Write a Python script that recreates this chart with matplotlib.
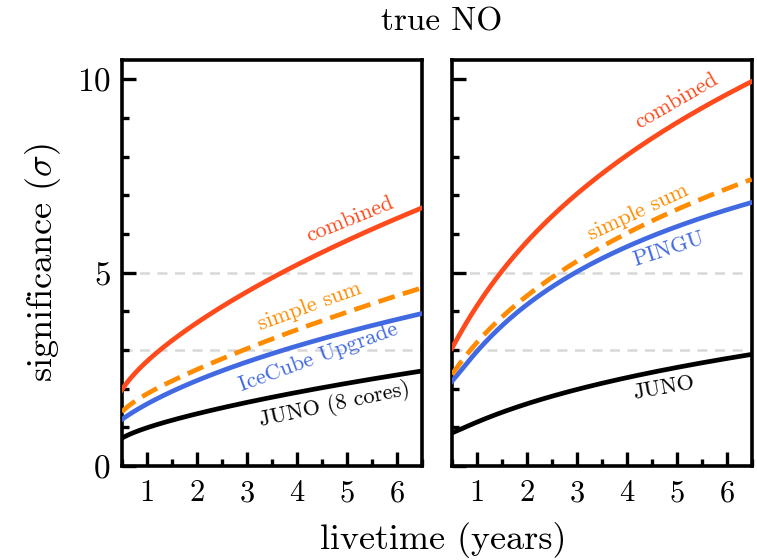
import numpy as np
import matplotlib
matplotlib.use('Agg')
import matplotlib.pyplot as plt
from matplotlib.ticker import MultipleLocator
from numpy.polynomial import polynomial as P

plt.rcParams['font.family'] = 'serif'
plt.rcParams['font.serif'] = ['cmr10', 'DejaVu Serif']
plt.rcParams['mathtext.fontset'] = 'cm'
plt.rcParams['axes.formatter.use_mathtext'] = True

# livetime (years)
t_left = [0.5, 1, 2, 3, 3.42, 4, 5, 6, 6.5]
comb_left = [1.97, 2.7, 3.7, 4.5, 4.82, 5.2, 5.8, 6.4, 6.68]
sum_left = [1.4, 1.85, 2.5, 3.05, 3.25, 3.5, 3.95, 4.4, 4.62]
icu_left = [1.2, 1.6, 2.2, 2.7, 2.87, 3.1, 3.45, 3.78, 3.95]
juno_left = [0.72, 0.98, 1.35, 1.65, 1.76, 1.9, 2.12, 2.33, 2.48]

t_right = [0.5, 1, 1.5, 2, 2.74, 3, 4, 5, 6, 6.5]
comb_right = [3.05, 4.1, 5.1, 5.8, 6.7, 7.0, 8.1, 8.85, 9.6, 9.95]
sum_right = [2.36, 3.2, 3.85, 4.4, 5.08, 5.25, 6.05, 6.65, 7.15, 7.41]
pingu_right = [2.18, 3.0, 3.6, 4.15, 4.82, 5.0, 5.72, 6.2, 6.6, 6.81]
juno_right = [0.85, 1.14, 1.38, 1.6, 1.89, 1.98, 2.28, 2.55, 2.78, 2.88]

c_comb = '#FF4A1C'
c_sum = '#FF8C00'
c_blue = '#4169E1'

fig = plt.figure(figsize=(7.57, 5.6), dpi=100)
axL = fig.add_axes([0.161, 0.168, 0.396, 0.725])
axR = fig.add_axes([0.597, 0.168, 0.396, 0.725])


def smooth(x, y):
    # smooth fit in log(t) through the read points
    xs = np.linspace(x[0], x[-1], 200)
    coef = P.polyfit(np.log(x), y, 3)
    return xs, P.polyval(np.log(xs), coef)


def panel(ax, t, comb, ssum, det, juno, labels):
    for lvl in (3, 5):
        ax.axhline(lvl, color='#d8d8d8', ls=(0, (4, 3)), lw=1.8, zorder=1)
    ax.plot(*smooth(t, juno), color='black', lw=3.4, zorder=3)
    ax.plot(*smooth(t, det), color=c_blue, lw=3.4, zorder=3)
    ax.plot(*smooth(t, ssum), color=c_sum, lw=3.4, ls=(0, (3.6, 1.8)), zorder=4)
    ax.plot(*smooth(t, comb), color=c_comb, lw=3.4, zorder=3)
    for (x, y, s, c, r) in labels:
        ax.text(x, y, s, color=c, rotation=r, ha='center', va='center',
                fontsize=16, rotation_mode='anchor')
    ax.set_xlim(0.5, 6.5)
    ax.set_ylim(0, 10.5)
    ax.xaxis.set_major_locator(MultipleLocator(1))
    ax.xaxis.set_minor_locator(MultipleLocator(0.5))
    ax.yaxis.set_major_locator(MultipleLocator(5))
    ax.yaxis.set_minor_locator(MultipleLocator(1))
    ax.tick_params(which='major', direction='in', length=10, width=2.4,
                   top=False, right=False)
    ax.tick_params(which='minor', direction='in', length=5, width=2.4,
                   top=False, right=False)
    ax.tick_params(axis='y', labelsize=24, pad=8)
    ax.tick_params(axis='x', labelsize=22, pad=10)
    for sp in ax.spines.values():
        sp.set_linewidth(2.6)


panel(axL, t_left, comb_left, sum_left, icu_left, juno_left, [
    (5.06, 6.37, 'combined', c_comb, 22),
    (4.25, 4.12, 'simple sum', c_sum, 20),
    (4.43, 2.8, 'IceCube Upgrade', c_blue, 20),
    (4.75, 1.58, 'JUNO (8 cores)', 'black', 12),
])
panel(axR, t_right, comb_right, sum_right, pingu_right, juno_right, [
    (5.0, 9.43, 'combined', c_comb, 30),
    (4.23, 6.55, 'simple sum', c_sum, 25),
    (4.83, 5.6, 'PINGU', c_blue, 18),
    (4.73, 2.02, 'JUNO', 'black', 10),
])
axR.set_yticklabels([])
axL.set_ylabel(r'significance ($\sigma$)', fontsize=26, labelpad=10)
fig.text(0.585, 0.035, 'livetime (years)', ha='center', va='center', fontsize=26)
fig.text(0.583, 0.96, 'true NO', ha='center', va='center', fontsize=24)

fig.savefig('out.png', dpi=100)
